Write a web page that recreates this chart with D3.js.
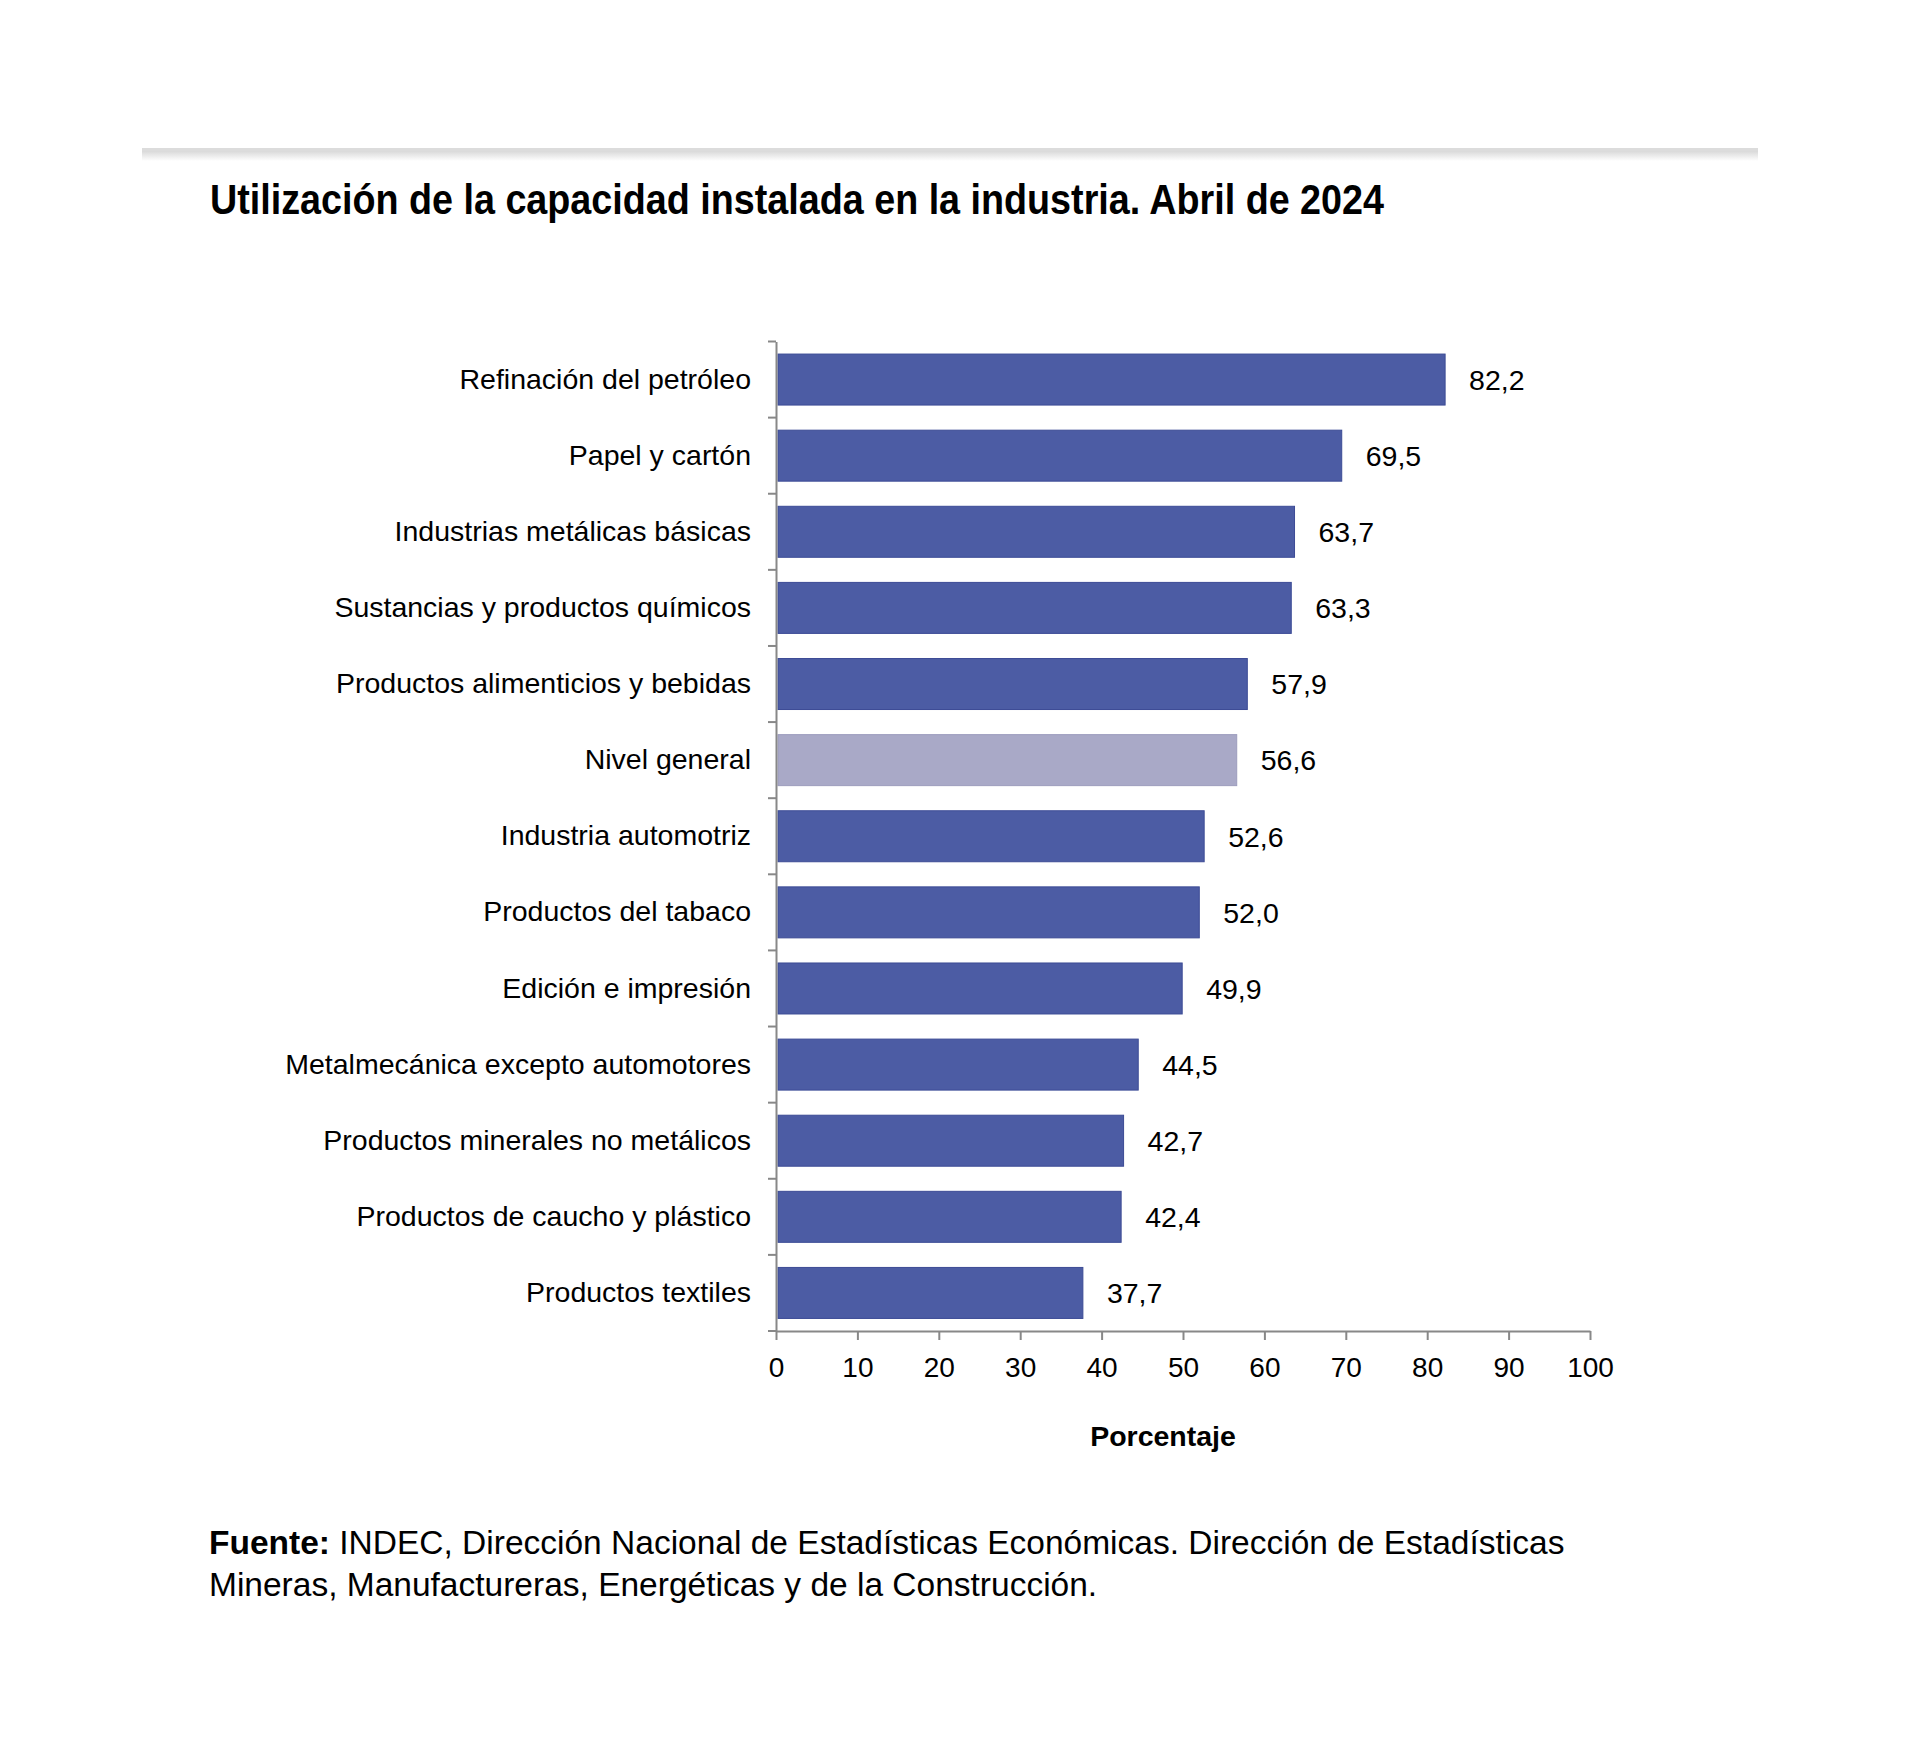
<!DOCTYPE html>
<html>
<head>
<meta charset="utf-8">
<script src="https://cdn.jsdelivr.net/npm/d3@7"></script>
<style>
  html, body { margin: 0; padding: 0; background: #ffffff; }
  svg { display: block; }
</style>
</head>
<body>
<svg id="chart" width="1920" height="1748"></svg>
<script>
const categories = [
  "Refinación del petróleo",
  "Papel y cartón",
  "Industrias metálicas básicas",
  "Sustancias y productos químicos",
  "Productos alimenticios y bebidas",
  "Nivel general",
  "Industria automotriz",
  "Productos del tabaco",
  "Edición e impresión",
  "Metalmecánica excepto automotores",
  "Productos minerales no metálicos",
  "Productos de caucho y plástico",
  "Productos textiles"
];
const values = [82.2, 69.5, 63.7, 63.3, 57.9, 56.6, 52.6, 52.0, 49.9, 44.5, 42.7, 42.4, 37.7];
const highlight = ["Nivel general"];
const xTicks = [0, 10, 20, 30, 40, 50, 60, 70, 80, 90, 100];

const titleText = "Utilización de la capacidad instalada en la industria. Abril de 2024";
const xAxisTitle = "Porcentaje";
const sourceBold = "Fuente:";
const sourceLine1 = " INDEC, Dirección Nacional de Estadísticas Económicas. Dirección de Estadísticas";
const sourceLine2 = "Mineras, Manufactureras, Energéticas y de la Construcción.";

const svg = d3.select("#chart");
const font = "'Liberation Sans', Arial, Helvetica, sans-serif";

// top rule with soft shadow
const defs = svg.append("defs");
const grad = defs.append("linearGradient").attr("id", "shadow").attr("x1", 0).attr("x2", 0).attr("y1", 0).attr("y2", 1);
grad.append("stop").attr("offset", "0%").attr("stop-color", "#d9d9d9");
grad.append("stop").attr("offset", "100%").attr("stop-color", "#ffffff");
svg.append("rect").attr("x", 142).attr("y", 148).attr("width", 1616).attr("height", 3).attr("fill", "#dcdcdc");
svg.append("rect").attr("x", 142).attr("y", 151).attr("width", 1616).attr("height", 10).attr("fill", "url(#shadow)");

// title
svg.append("text")
  .attr("x", 210).attr("y", 214)
  .attr("font-family", "'Liberation Sans Narrow', 'Liberation Sans', Arial, sans-serif")
  .attr("font-weight", "bold")
  .attr("font-size", 43)
  .attr("textLength", 1174)
  .attr("lengthAdjust", "spacingAndGlyphs")
  .attr("fill", "#000")
  .text(titleText);

// scales
const x = d3.scaleLinear().domain([0, 100]).range([776, 1590]);
const y = d3.scaleBand().domain(categories).range([341.5, 1331]).paddingInner(0.33).paddingOuter(0.165);

// bars
svg.append("g").selectAll("rect")
  .data(categories)
  .join("rect")
  .attr("x", x(0) + 2)
  .attr("y", d => y(d))
  .attr("width", (d, i) => x(values[i]) - x(0) - 2)
  .attr("height", y.bandwidth())
  .attr("fill", d => highlight.includes(d) ? "#a9a9c7" : "#4c5ca4")
  .attr("stroke", d => highlight.includes(d) ? "#9c9cbd" : "#3c4b95")
  .attr("stroke-width", 1);

// value labels
svg.append("g").selectAll("text")
  .data(categories)
  .join("text")
  .attr("x", (d, i) => x(values[i]) + 24)
  .attr("y", d => y(d) + y.bandwidth() / 2)
  .attr("dy", "0.36em")
  .attr("font-family", font)
  .attr("font-size", 28.5)
  .attr("fill", "#000")
  .text((d, i) => d3.format(".1f")(values[i]).replace(".", ","));

// y axis (labels)
const yAxis = svg.append("g")
  .attr("transform", `translate(${x(0)},0)`)
  .call(d3.axisLeft(y).tickSize(0).tickPadding(25));
yAxis.select(".domain").attr("stroke", "#888").attr("stroke-width", 2);
yAxis.selectAll("text").attr("font-family", font).attr("font-size", 28.5).attr("fill", "#000");

// y boundary ticks
const boundaries = categories.map(c => y(c) - (y.step() - y.bandwidth()) / 2);
boundaries.push(y.range()[1]);
svg.append("g").selectAll("line")
  .data(boundaries)
  .join("line")
  .attr("x1", x(0) - 8).attr("x2", x(0))
  .attr("y1", d => d).attr("y2", d => d)
  .attr("stroke", "#888").attr("stroke-width", 2);

// x axis
const xAxis = svg.append("g")
  .attr("transform", `translate(0,${y.range()[1]})`)
  .call(d3.axisBottom(x).tickValues(xTicks).tickSize(9).tickPadding(17).tickSizeOuter(0));
xAxis.select(".domain").attr("stroke", "#888").attr("stroke-width", 2);
xAxis.selectAll(".tick line").attr("stroke", "#888").attr("stroke-width", 2);
xAxis.selectAll("text").attr("font-family", font).attr("font-size", 28).attr("fill", "#000");

// x axis title
svg.append("text")
  .attr("x", 1163).attr("y", 1446)
  .attr("text-anchor", "middle")
  .attr("font-family", font)
  .attr("font-weight", "bold")
  .attr("font-size", 28.5)
  .attr("fill", "#000")
  .text(xAxisTitle);

// source
const src = svg.append("text")
  .attr("x", 209).attr("y", 1554)
  .attr("font-family", font)
  .attr("font-size", 33.5)
  .attr("fill", "#000");
src.append("tspan").attr("font-weight", "bold").text(sourceBold);
src.append("tspan").text(sourceLine1);
svg.append("text")
  .attr("x", 209).attr("y", 1596)
  .attr("font-family", font)
  .attr("font-size", 33.5)
  .attr("fill", "#000")
  .text(sourceLine2);
</script>
</body>
</html>
